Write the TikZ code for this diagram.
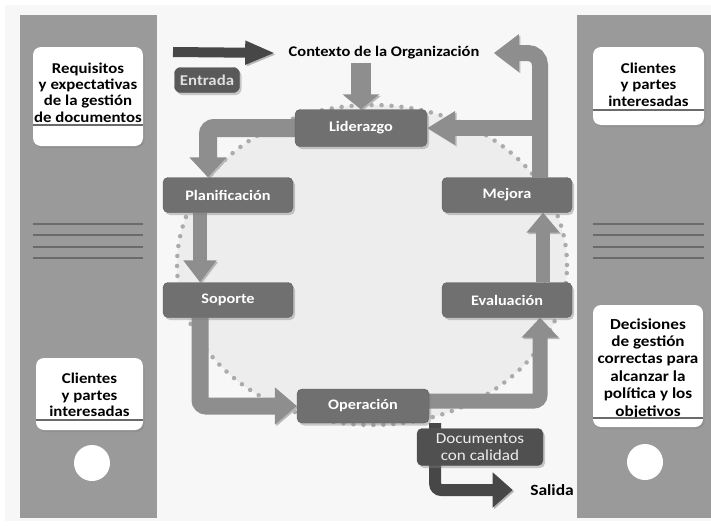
\documentclass[tikz,border=0pt]{standalone}
\usepackage{fontspec}
\setmainfont{Carlito}[FakeStretch=1.12]
\usepackage{xcolor}
\definecolor{panelgray}{HTML}{9A9A9A}
\definecolor{stagegray}{HTML}{707070}
\definecolor{stageedge}{HTML}{5A5A5A}
\definecolor{flowgray}{HTML}{8E8E8E}
\definecolor{darkflow}{HTML}{474747}
\definecolor{rulegray}{HTML}{6A6A6A}
\definecolor{dotgray}{HTML}{ABABAB}
\usepackage{tikz}
\usetikzlibrary{arrows.meta,positioning,calc,backgrounds,shadows}
\pgfdeclarelayer{back}
\pgfsetlayers{back,background,main}

\begin{document}
\begin{tikzpicture}[x=1pt,y=-1pt,
    stage/.style={draw=stageedge,fill=stagegray,rounded corners=5pt,minimum width=130pt,minimum height=35pt,
      text=white,font=\bfseries\fontsize{14.5}{16}\selectfont,
      drop shadow={shadow xshift=2pt,shadow yshift=-2.5pt,opacity=.4}},
    card/.style={fill=white,rounded corners=8pt,inner sep=0pt,
      drop shadow={shadow xshift=1.5pt,shadow yshift=-2pt,opacity=.35}},
    cardtext/.style={align=center,inner sep=0pt,font=\bfseries\fontsize{15}{16.4}\selectfont},
    flow/.style={draw=flowgray,rounded corners=6pt,
      preaction={draw=black!28,transform canvas={shift={(1.5pt,-1.5pt)}}}},
  ]
    \useasboundingbox (0,0) rectangle (711,525);
    \begin{pgfonlayer}{back}
      \fill[white] (0,0) rectangle (711,525);
      \fill[gray!6] (5,5) rectangle (711,521);
      \fill[panelgray] (20,15) rectangle (157,518);
      \fill[panelgray] (577,15) rectangle (711,518);
      \foreach \y in {224,235,247,258} {
        \draw[rulegray,line width=1.2pt] (33,\y) -- (143,\y);
        \draw[rulegray,line width=1.2pt] (593,\y) -- (704,\y);
      }
      \fill[white] (92,463) circle (18pt);
      \fill[white] (645,462) circle (18pt);
      \fill[gray!14] (372,265) ellipse [x radius=195pt,y radius=160pt];
      \draw[dotgray,line width=4.5pt,line cap=round,dash pattern=on 0pt off 10pt]
        (372,265) ellipse [x radius=195pt,y radius=160pt];
    \end{pgfonlayer}

    % side cards
    \node[card,minimum width=110pt,minimum height=99pt] (reqcard) at (88,96.5) {};
    \node[cardtext] (req) at (88,92.5) {Requisitos\\y expectativas\\de la gestión\\de documentos};
    \draw[rulegray,line width=1.2pt] (reqcard.west |- 0,125) -- (reqcard.east |- 0,125);
    \node[card,minimum width=107pt,minimum height=72pt] (cliLcard) at (89.5,394) {};
    \node[cardtext] (cliL) at (89.5,395) {Clientes\\y partes\\interesadas};
    \draw[rulegray,line width=1.2pt] (cliLcard.west |- 0,420) -- (cliLcard.east |- 0,420);
    \node[card,minimum width=111pt,minimum height=78pt] (cliRcard) at (648.5,86) {};
    \node[cardtext] (cliR) at (648.5,84.5) {Clientes\\y partes\\interesadas};
    \draw[rulegray,line width=1.2pt] (cliRcard.west |- 0,110) -- (cliRcard.east |- 0,110);
    \node[card,minimum width=110pt,minimum height=122pt] (decCard) at (648,366) {};
    \node[cardtext,font=\bfseries\fontsize{15.3}{17.4}\selectfont] (dec) at (648,368.5)
      {Decisiones\\de gestión\\correctas para\\alcanzar la\\política y los\\objetivos};
    \draw[rulegray,line width=1.2pt] (decCard.west |- 0,418) -- (decCard.east |- 0,418);

    % cycle
    \node[stage,minimum width=132pt,minimum height=37pt] (lid) at (361,128) {Liderazgo};
    \node[stage] (plan) at (228,195) {Planificación};
    \node[stage] (sop) at (228,300) {Soporte};
    \node[stage,minimum width=132pt,minimum height=34pt] (ope) at (363,406) {Operación};
    \node[stage] (eva) at (507,300) {Evaluación};
    \node[stage] (mej) at (507,195) {Mejora};

    \node[font=\bfseries\fontsize{14.7}{16}\selectfont] (ctx) at (384,53) {Contexto de la Organización};
    \node[stage,fill=darkflow!90,minimum width=65pt,minimum height=25pt,inner sep=2pt,rounded corners=6pt,
      text=gray!25,font=\bfseries\fontsize{15}{16}\selectfont] (ent) at (207,80) {Entrada};
    \node[stage,fill=darkflow!95,minimum width=126pt,minimum height=37pt,inner sep=2pt,align=center,
      text=gray!15,font=\fontsize{15.3}{17}\selectfont] (doc) at (480,447) {Documentos\\con calidad};
    \node[font=\bfseries\fontsize{15.6}{17}\selectfont] (sal) at (552,490) {Salida};
    \coordinate (entin) at (173,52);
    \coordinate (mejtop) at ([xshift=33pt]mej.north);

    \begin{pgfonlayer}{background}
      \draw[flow,draw=darkflow,line width=10pt,-{Triangle[width=22pt,length=30pt]}]
        (entin) -- ([xshift=-10pt]ctx.west);
      \draw[flow,line width=20pt,-{Triangle[width=36pt,length=15pt]}]
        (lid.north |- ctx.south) -- (lid.north);
      \draw[flow,line width=18pt,-{Triangle[width=36pt,length=20pt]}]
        (lid.west) -| ([xshift=-20pt]plan.north);
      \draw[flow,line width=14pt,-{Triangle[width=32pt,length=22pt]}]
        ([xshift=-28pt]plan.south) -- ([xshift=-28pt]sop.north);
      \draw[flow,line width=17pt,-{Triangle[width=36pt,length=22pt]}]
        ([xshift=-28pt]sop.south) |- (ope.west);
      \draw[flow,line width=15pt,-{Triangle[width=36pt,length=20pt]}]
        ([yshift=5pt]ope.east) -| ([xshift=33pt]eva.south);
      \draw[flow,line width=14pt,-{Triangle[width=32pt,length=20pt]}]
        ([xshift=36pt]eva.north) -- ([xshift=36pt]mej.south);
      \draw[flow,line width=16pt,-{Triangle[width=32pt,length=28pt]}]
        (lid.east -| mejtop) -- (lid.east);
      \draw[flow,line width=16pt,rounded corners=12pt,-{Triangle[width=36pt,length=25pt]}]
        (mejtop) |- ([xshift=11pt]ctx.east);
      \draw[flow,draw=darkflow,line width=12pt,-{Triangle[width=34pt,length=20pt]}]
        ([xshift=6pt]ope.south east) |- ([xshift=-14pt]sal.west);
    \end{pgfonlayer}
\end{tikzpicture}
\end{document}
